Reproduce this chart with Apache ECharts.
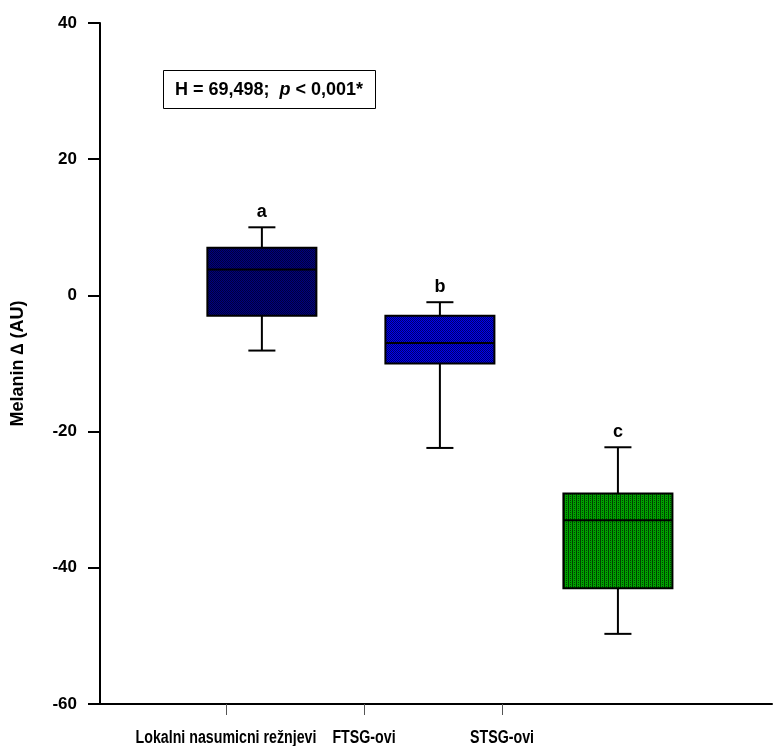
<!DOCTYPE html>
<html>
<head>
<meta charset="utf-8">
<script src="https://cdn.jsdelivr.net/npm/echarts@6/dist/echarts.min.js"></script>
<style>
html,body{margin:0;padding:0;background:#fff;}
#chart{width:774px;height:746px;}
</style>
</head>
<body>
<div id="chart"></div>
<script>
// ---- data ----
var categories = ['Lokalni nasumicni režnjevi', 'FTSG-ovi', 'STSG-ovi'];
var labelPositions = [1, 2, 3];          // where the category labels/ticks sit on the x scale
var boxPositions = [1.26, 2.55, 3.84];   // where the boxes sit on the x scale
var whiskerLow = [-8.1, -22.4, -49.7];
var q1 = [-3.0, -10.0, -43.0];
var median = [3.8, -7.0, -33.0];
var q3 = [7.0, -3.0, -29.1];
var whiskerHigh = [10.0, -1.0, -22.3];
var groupLetters = ['a', 'b', 'c'];
var yTicks = [-60, -40, -20, 0, 20, 40];

var FONT = '"Liberation Sans", Arial, Helvetica, sans-serif';

function makePattern(bg, fg, type) {
  var c = document.createElement('canvas');
  c.width = 4; c.height = 4;
  var g = c.getContext('2d');
  g.fillStyle = bg; g.fillRect(0, 0, 4, 4);
  g.fillStyle = fg;
  if (type === 'checker') {
    g.fillRect(0, 0, 1, 1); g.fillRect(2, 0, 1, 1);
    g.fillRect(1, 1, 1, 1); g.fillRect(3, 1, 1, 1);
    g.fillRect(0, 2, 1, 1); g.fillRect(2, 2, 1, 1);
    g.fillRect(1, 3, 1, 1); g.fillRect(3, 3, 1, 1);
  } else {
    g.fillRect(0, 0, 1, 4);
    g.fillRect(2, 0, 1, 1); g.fillRect(2, 2, 1, 1);
  }
  return { image: c, repeat: 'repeat' };
}
var fills = [
  makePattern('#000080', '#00003c', 'checker'),
  makePattern('#0000f0', '#00006a', 'checker'),
  makePattern('#00a000', '#004400', 'stripe')
];

var boxData = categories.map(function (c, i) {
  return [boxPositions[i], whiskerLow[i], q1[i], median[i], q3[i], whiskerHigh[i], i];
});
var labelData = categories.map(function (c, i) {
  return [labelPositions[i], yTicks[0], i];
});

var chart = echarts.init(document.getElementById('chart'), null, { renderer: 'canvas' });

var pxPerUnit = 138;
var xMin = 1 - (226 - 100) / pxPerUnit;
var xMax = xMin + 672 / pxPerUnit;

chart.setOption({
  animation: false,
  backgroundColor: '#ffffff',
  grid: { left: 100, right: 2, top: 23, bottom: 42, containLabel: false },
  xAxis: {
    type: 'value',
    min: xMin,
    max: xMax,
    splitLine: { show: false },
    axisLine: { show: true, onZero: false, lineStyle: { color: '#000', width: 2 } },
    axisTick: { show: true, customValues: labelPositions, length: 11, inside: false, lineStyle: { color: '#555', width: 1 } },
    axisLabel: { show: false }
  },
  yAxis: {
    type: 'value',
    min: yTicks[0],
    max: yTicks[yTicks.length - 1],
    interval: 20,
    name: 'Melanin ∆ (AU)',
    nameLocation: 'middle',
    nameGap: 73,
    nameRotate: 90,
    nameTextStyle: { color: '#000', fontFamily: FONT, fontWeight: 'bold', fontSize: 18 },
    splitLine: { show: false },
    axisLine: { show: true, lineStyle: { color: '#000', width: 2 } },
    axisTick: { show: true, length: 12, lineStyle: { color: '#000', width: 2 } },
    axisLabel: { margin: 23, color: '#000', fontFamily: FONT, fontWeight: 'bold', fontSize: 17 }
  },
  series: [{
    type: 'custom',
    data: boxData,
    clip: false,
    renderItem: function (params, api) {
      var x = api.value(0);
      var lo = api.coord([x, api.value(1)]);
      var b1 = api.coord([x, api.value(2)]);
      var md = api.coord([x, api.value(3)]);
      var b3 = api.coord([x, api.value(4)]);
      var hi = api.coord([x, api.value(5)]);
      var idx = api.value(6);
      var halfBox = api.size([0.79, 0])[0] / 2;
      var halfCap = api.size([0.196, 0])[0] / 2;
      var cx = hi[0];
      var stroke = { stroke: '#000', lineWidth: 2 };
      return {
        type: 'group',
        children: [
          { type: 'line', shape: { x1: cx, y1: hi[1], x2: cx, y2: b3[1] }, style: stroke },
          { type: 'line', shape: { x1: cx - halfCap, y1: hi[1], x2: cx + halfCap, y2: hi[1] }, style: stroke },
          { type: 'line', shape: { x1: cx, y1: b1[1], x2: cx, y2: lo[1] }, style: stroke },
          { type: 'line', shape: { x1: cx - halfCap, y1: lo[1], x2: cx + halfCap, y2: lo[1] }, style: stroke },
          { type: 'rect', shape: { x: cx - halfBox, y: b3[1], width: halfBox * 2, height: b1[1] - b3[1] },
            style: { fill: fills[idx], stroke: '#000', lineWidth: 2 } },
          { type: 'line', shape: { x1: cx - halfBox, y1: md[1], x2: cx + halfBox, y2: md[1] }, style: stroke },
          { type: 'text', x: cx, y: hi[1] - 15,
            style: { text: groupLetters[idx], fill: '#000', font: 'bold 18px ' + FONT, align: 'center', verticalAlign: 'middle' } }
        ]
      };
    }
  }, {
    // category names under the x axis (condensed, like the original)
    type: 'custom',
    data: labelData,
    clip: false,
    silent: true,
    renderItem: function (params, api) {
      var p = api.coord([api.value(0), api.value(1)]);
      return {
        type: 'text',
        x: p[0],
        y: p[1] + 34,
        scaleX: 0.79,
        style: {
          text: categories[api.value(2)],
          fill: '#000',
          font: 'bold 18px ' + FONT,
          align: 'center',
          verticalAlign: 'middle'
        }
      };
    }
  }],
  graphic: [
    { type: 'rect', left: 163, top: 70, shape: { width: 212, height: 38 },
      style: { fill: '#fff', stroke: '#000', lineWidth: 1 } },
    { type: 'text', x: 269, y: 90,
      style: {
        text: '{n|H = 69,498;  }{i|p}{n| < 0,001*}',
        align: 'center', verticalAlign: 'middle',
        rich: {
          n: { fontFamily: FONT, fontWeight: 'bold', fontSize: 18, fill: '#000' },
          i: { fontFamily: FONT, fontWeight: 'bold', fontStyle: 'italic', fontSize: 18, fill: '#000' }
        }
      } }
  ]
});
</script>
</body>
</html>
